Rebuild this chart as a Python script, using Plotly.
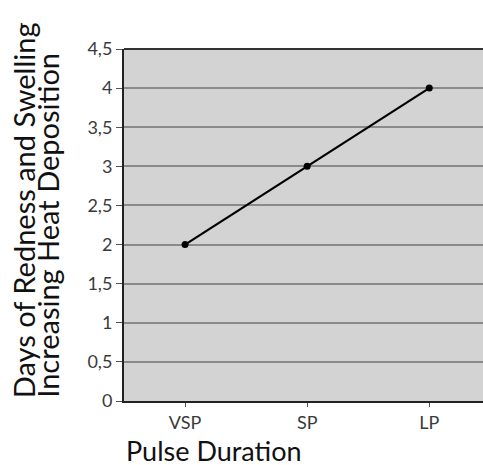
import plotly.graph_objects as go

categories = ["VSP", "SP", "LP"]
days = [2, 3, 4]
y_ticks = [0, 0.5, 1, 1.5, 2, 2.5, 3, 3.5, 4, 4.5]
y_labels = ["0", "0,5", "1", "1,5", "2", "2,5", "3", "3,5", "4", "4,5"]

FONT = "Lato, Open Sans, sans-serif"
TICKF = dict(size=18, color="#3a3a3a", family=FONT)
TITLEF = dict(size=29, color="#111111", family=FONT)

fig = go.Figure(go.Scatter(
    x=[0, 1, 2], y=days, mode="lines+markers",
    line=dict(color="black", width=2.2),
    marker=dict(color="black", size=7),
    showlegend=False))

fig.update_layout(
    width=483, height=465,
    paper_bgcolor="white", plot_bgcolor="#d3d3d3",
    margin=dict(l=124, r=0, t=49, b=64),
    font=dict(family=FONT, color="#333333", size=18),
    xaxis=dict(range=[-0.5, 2.44], tickmode="array", tickvals=[0, 1, 2], ticktext=categories,
               showgrid=False, zeroline=False, showline=True, linecolor="#222222", linewidth=2,
               ticks="outside", ticklen=4, tickcolor="#555555", tickson="boundaries",
               tickfont=TICKF),
    yaxis=dict(range=[0, 4.5], tickmode="array", tickvals=y_ticks, ticktext=y_labels,
               showgrid=True, gridcolor="#8a8a8a", gridwidth=2, zeroline=False,
               showline=True, linecolor="#222222", linewidth=2,
               ticks="outside", ticklen=6, tickcolor="#555555",
               tickfont=TICKF),
    shapes=[dict(type="line", xref="paper", yref="paper", x0=0, x1=1, y0=1, y1=1,
                 line=dict(color="#333333", width=2))],
    annotations=[
        dict(text="Days of Redness and Swelling", xref="paper", yref="y", x=0, y=0.01,
             xshift=-101, xanchor="center", yanchor="bottom",
             textangle=-90, showarrow=False, font=TITLEF),
        dict(text="Increasing Heat Deposition", xref="paper", yref="y", x=0, y=0.01,
             xshift=-76, xanchor="center", yanchor="bottom",
             textangle=-90, showarrow=False, font=TITLEF),
        dict(text="Pulse Duration", xref="paper", yref="paper", x=0, y=0,
             xanchor="left", yanchor="middle", yshift=-49, height=28,
             showarrow=False, font=dict(size=27, color="#111111", family=FONT)),
    ],
)

fig.write_html("out.html", config={"displayModeBar": False},
               post_script="document.body.style.margin='0';")
